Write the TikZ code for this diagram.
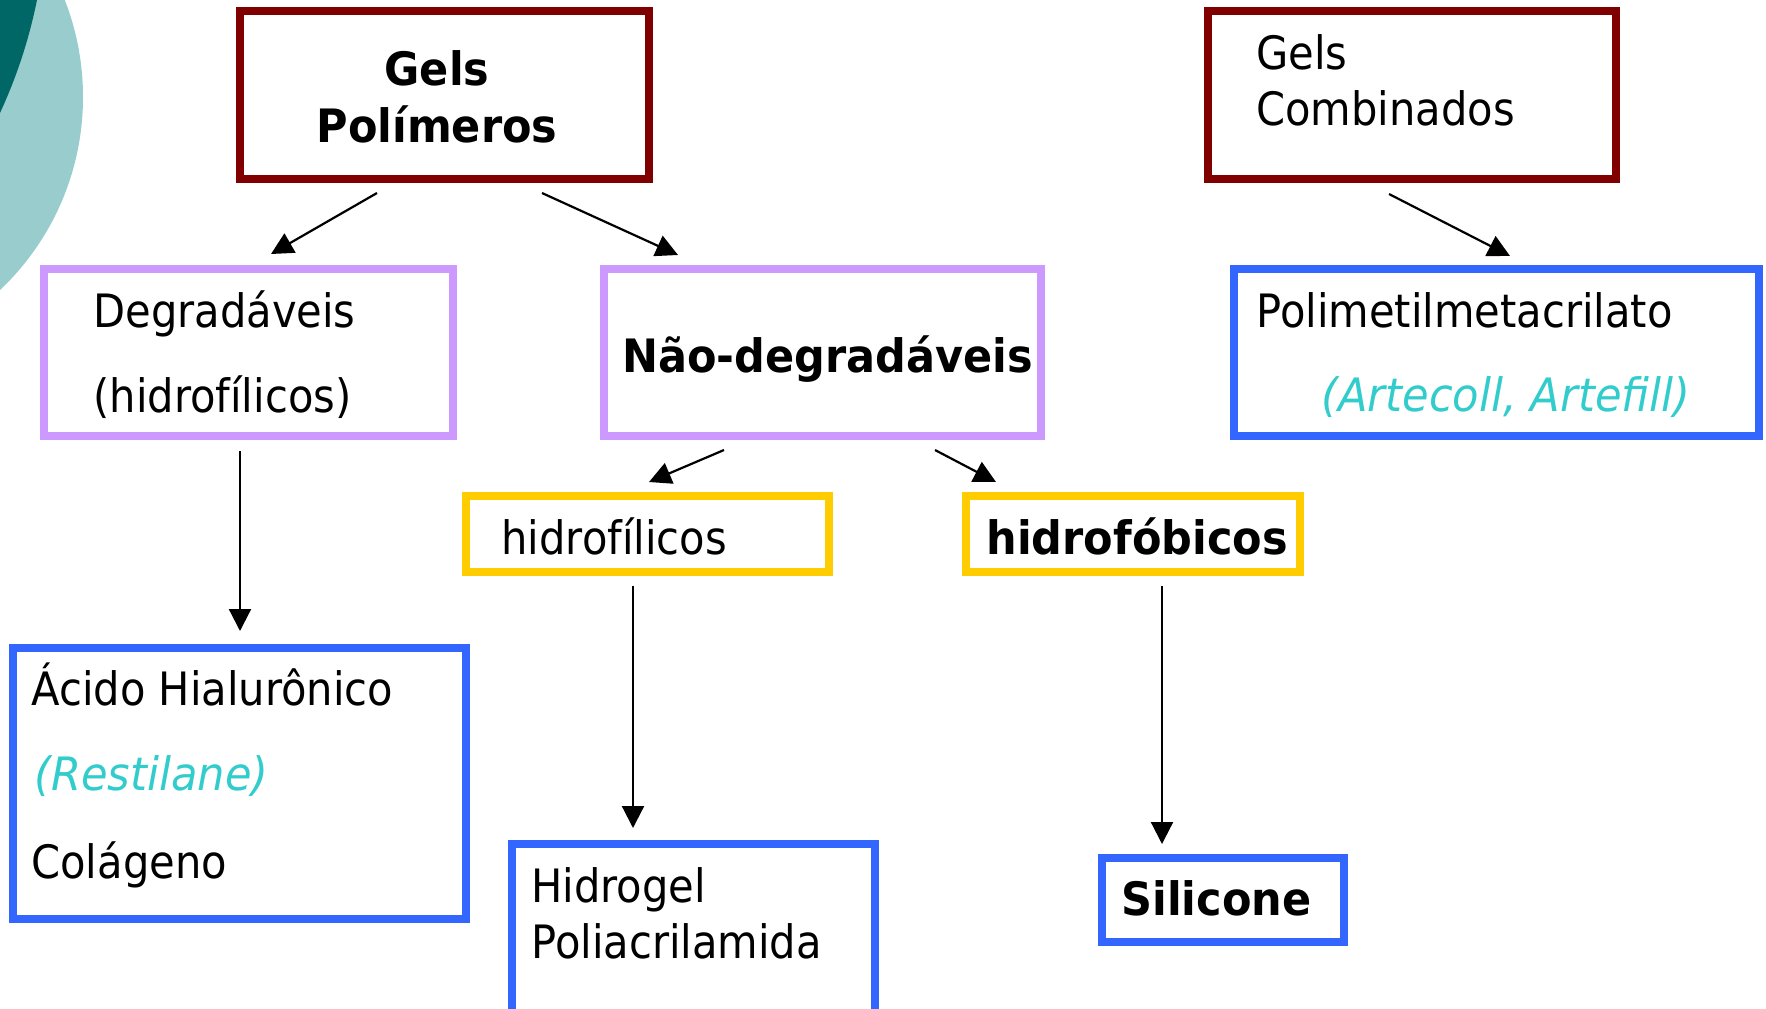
\documentclass[tikz,border=0pt]{standalone}
\usepackage{fontspec}
\setmainfont{DejaVu Sans}[FakeStretch=0.905,
  BoldFeatures={FakeStretch=0.935},
  ItalicFeatures={FakeStretch=0.94}]
\usetikzlibrary{arrows.meta,fit}
\definecolor{gelred}{HTML}{800000}
\definecolor{gelpurple}{HTML}{CC99FF}
\definecolor{gelyellow}{HTML}{FFCC00}
\definecolor{gelblue}{HTML}{3366FF}
\definecolor{gelcyan}{HTML}{33CCCC}
\definecolor{tealLight}{HTML}{99CCCC}
\definecolor{tealDark}{HTML}{006666}
\begin{document}
\begin{tikzpicture}[x=0.5pt,y=-0.5pt,
  box/.style={draw, line width=4pt, inner sep=0pt},
  redbox/.style={box, draw=gelred},
  purplebox/.style={box, draw=gelpurple},
  yellowbox/.style={box, draw=gelyellow},
  bluebox/.style={box, draw=gelblue},
  txt/.style={inner sep=0pt, font=\fontsize{23pt}{27pt}\selectfont, anchor=base west},
  btxt/.style={txt, font=\fontsize{23pt}{27pt}\selectfont\bfseries},
  itxt/.style={txt, text=gelcyan, font=\fontsize{23pt}{27pt}\selectfont\itshape},
  arr/.style={line width=1.1pt, -{Triangle[length=11pt,width=11pt]}}]
\useasboundingbox (0,0) rectangle (1766,1008);
\clip (0,0) rectangle (1766,1008);
% decoration
\fill[tealLight] (-183,97) circle[radius=266];
\fill[tealDark] (-462,-101) circle[radius=509];
% boxes
\node[redbox, fit={(240,11) (649,179)}] (gp) {};
\node[redbox, fit={(1208,11) (1616,179)}] (gc) {};
\node[purplebox, fit={(44,269) (453,436)}] (deg) {};
\node[purplebox, fit={(604,269) (1041,436)}] (nd) {};
\node[bluebox, fit={(1234,269) (1759,436)}] (pm) {};
\node[yellowbox, fit={(466,496) (829,572)}] (hfil) {};
\node[yellowbox, fit={(966,496) (1300,572)}] (hfob) {};
\node[bluebox, fit={(13,648) (466,919)}] (ah) {};
\node[bluebox, fit={(512,844) (875,1014)}] (hg) {};
\node[bluebox, fit={(1102,858) (1344,942)}] (si) {};
% texts
\node[btxt, anchor=base] (gpt1) at (437,85) {Gels};
\node[btxt, anchor=base] (gpt2) at (437,142) {Polímeros};
\node[txt] (gct1) at (1256,69) {Gels};
\node[txt] (gct2) at (1256,125) {Combinados};
\node[txt] (degt1) at (93,327) {Degradáveis};
\node[txt] (degt2) at (93,412) {(hidrofílicos)};
\node[btxt] (ndt) at (622,372) {Não-degradáveis};
\node[txt] (pmt1) at (1256,327) {Polimetilmetacrilato};
\node[itxt] (pmt2) at (1321,411) {(Artecoll, Artefill)};
\node[txt] (hfilt) at (501,554) {hidrofílicos};
\node[btxt] (hfobt) at (986,554) {hidrofóbicos};
\node[txt] (aht1) at (31,705) {Ácido Hialurônico};
\node[itxt] (aht2) at (34,790) {(Restilane)};
\node[txt] (aht3) at (31,878) {Colágeno};
\node[txt] (hgt1) at (531,902) {Hidrogel};
\node[txt] (hgt2) at (531,958) {Poliacrilamida};
\node[btxt] (sit) at (1121,915) {Silicone};
% connectors
\coordinate (a1s) at (377,193); \coordinate (a1e) at (271,254);
\coordinate (a2s) at (542,193); \coordinate (a2e) at (678,255);
\coordinate (a3s) at (1389,194); \coordinate (a3e) at (1510,256);
\coordinate (a4s) at (240,451); \coordinate (a4e) at (240,631);
\coordinate (a5s) at (724,450); \coordinate (a5e) at (649,482);
\coordinate (a6s) at (935,450); \coordinate (a6e) at (996,482);
\coordinate (a7s) at (633,586); \coordinate (a7e) at (633,828);
\coordinate (a8s) at (1162,586); \coordinate (a8e) at (1162,844);
\draw[arr] (a1s) -- (a1e);
\draw[arr] (a2s) -- (a2e);
\draw[arr] (a3s) -- (a3e);
\draw[arr] (a4s) -- (a4e);
\draw[arr] (a5s) -- (a5e);
\draw[arr] (a6s) -- (a6e);
\draw[arr] (a7s) -- (a7e);
\draw[arr] (a8s) -- (a8e);
\end{tikzpicture}
\end{document}
